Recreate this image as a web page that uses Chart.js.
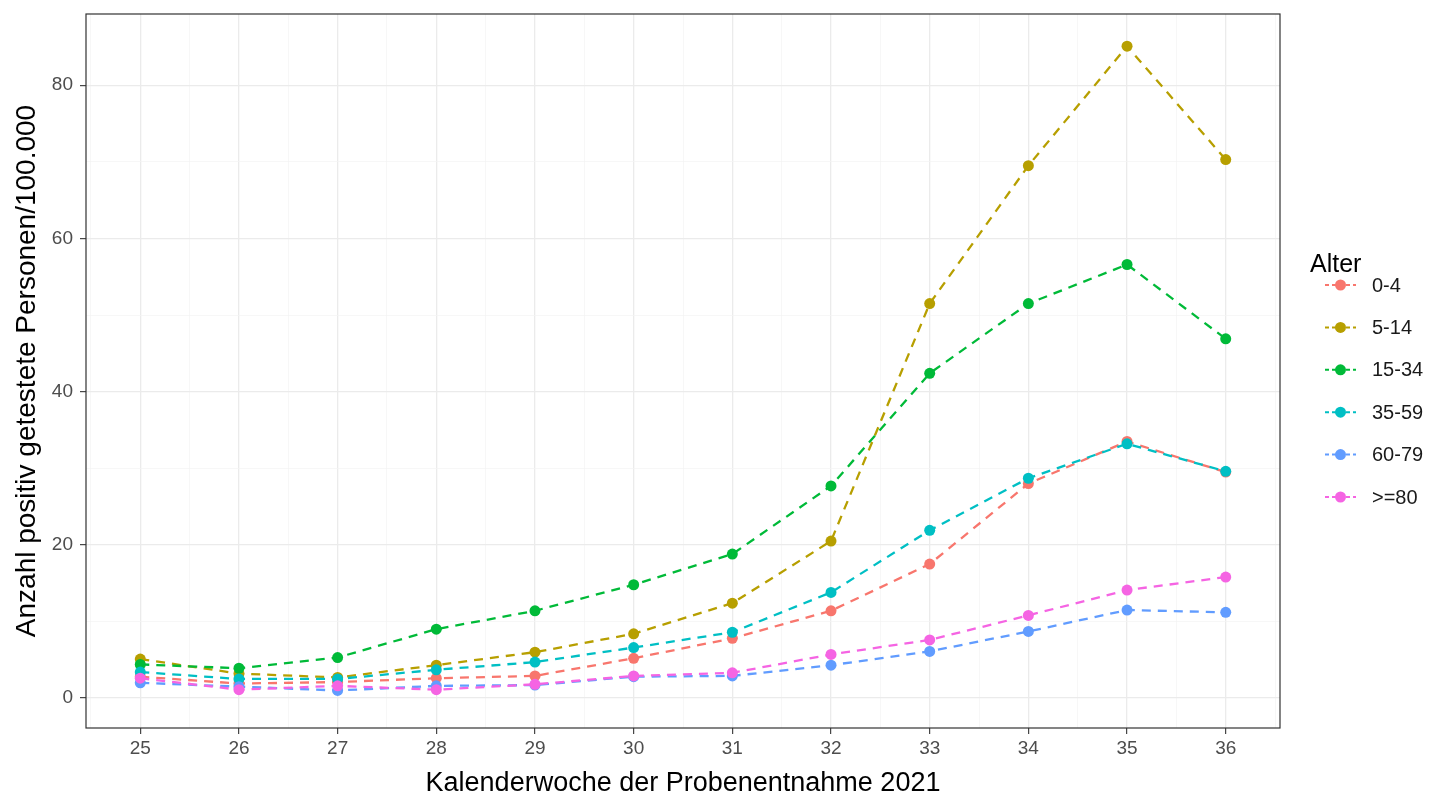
<!DOCTYPE html>
<html>
<head>
<meta charset="utf-8">
<script src="https://cdn.jsdelivr.net/npm/chart.js@4"></script>
<style>
  html, body { margin: 0; padding: 0; background: #fff; }
  #wrap { width: 1434px; height: 793px; position: relative; }
</style>
</head>
<body>
<div id="wrap"><canvas id="myChart"></canvas></div>
<script>
// Kalenderwochen
const weeks = [25, 26, 27, 28, 29, 30, 31, 32, 33, 34, 35, 36];

// Anzahl positiv getestete Personen/100.000 je Altersgruppe
const alter0_4   = [2.8, 1.9, 2.1, 2.6, 2.9, 5.2, 7.8, 11.4, 17.5, 28.0, 33.5, 29.5];
const alter5_14  = [5.1, 3.2, 2.7, 4.3, 6.0, 8.4, 12.4, 20.5, 51.5, 69.5, 85.1, 70.3];
const alter15_34 = [4.4, 3.9, 5.3, 9.0, 11.4, 14.8, 18.8, 27.7, 42.4, 51.5, 56.6, 46.9];
const alter35_59 = [3.4, 2.5, 2.5, 3.7, 4.7, 6.6, 8.6, 13.8, 21.9, 28.7, 33.2, 29.6];
const alter60_79 = [2.0, 1.5, 1.0, 1.6, 1.7, 2.8, 2.9, 4.3, 6.1, 8.7, 11.5, 11.2];
const alter80    = [2.6, 1.1, 1.6, 1.1, 1.8, 2.9, 3.3, 5.7, 7.6, 10.8, 14.1, 15.8];

const groupLabels = ['0-4', '5-14', '15-34', '35-59', '60-79', '>=80'];
const groupValues = [alter0_4, alter5_14, alter15_34, alter35_59, alter60_79, alter80];
const groupColors = ['#F8766D', '#B79F00', '#00BA38', '#00BFC4', '#619CFF', '#F564E3'];

const yTicks = [0, 10, 20, 30, 40, 50, 60, 70, 80];

const FONT = '"Liberation Sans", Arial, Helvetica, sans-serif';

function makeDataSets() {
    let ds = [];
    for (let i = 0; i < groupLabels.length; i++) {
        ds.push({
            label: groupLabels[i],
            data: weeks.map((w, j) => ({x: w, y: groupValues[i][j]})),
            borderColor: groupColors[i],
            backgroundColor: groupColors[i],
            borderWidth: 2.3,
            borderDash: [9, 7],
            pointRadius: 5.5,
            pointHoverRadius: 5.5,
            pointBorderWidth: 0,
            tension: 0,
            order: groupLabels.length - i
        });
    }
    return ds;
}

// panel border like ggplot theme_bw
const panelBorder = {
    id: 'panelBorder',
    afterDraw(chart) {
        const {ctx, chartArea: a} = chart;
        ctx.save();
        ctx.strokeStyle = '#333333';
        ctx.lineWidth = 1.2;
        ctx.strokeRect(a.left, a.top, a.right - a.left, a.bottom - a.top);
        ctx.restore();
    }
};

// legend on the right with line + point keys
const sideLegend = {
    id: 'sideLegend',
    afterDraw(chart) {
        const ctx = chart.ctx;
        ctx.save();
        ctx.fillStyle = '#000';
        ctx.font = '25px ' + FONT;
        ctx.textBaseline = 'middle';
        ctx.textAlign = 'left';
        ctx.fillText('Alter', 1310, 265);
        ctx.font = '20px ' + FONT;
        let y0 = 285;
        let step = 42.4;
        chart.data.datasets.forEach((d, i) => {
            let y = y0 + i * step;
            ctx.strokeStyle = d.borderColor;
            ctx.lineWidth = 2;
            ctx.setLineDash([4, 3]);
            ctx.beginPath();
            ctx.moveTo(1325, y);
            ctx.lineTo(1356, y);
            ctx.stroke();
            ctx.setLineDash([]);
            ctx.fillStyle = d.backgroundColor;
            ctx.beginPath();
            ctx.arc(1340.5, y, 5.5, 0, Math.PI * 2);
            ctx.fill();
            ctx.fillStyle = '#1a1a1a';
            ctx.fillText(d.label, 1372, y + 1);
        });
        ctx.restore();
    }
};

function drawChart() {
    const ctx = document.getElementById('myChart');
    new Chart(ctx, {
        type: 'line',
        data: {
            datasets: makeDataSets()
        },
        plugins: [panelBorder, sideLegend],
        options: {
            responsive: true,
            maintainAspectRatio: false,
            animation: false,
            layout: {
                padding: {left: 0, top: 14, right: 154, bottom: 0}
            },
            plugins: {
                legend: {display: false},
                tooltip: {enabled: false}
            },
            scales: {
                x: {
                    type: 'linear',
                    min: 24.45,
                    max: 36.55,
                    afterBuildTicks: scale => {
                        let t = [];
                        for (let v = 24.5; v <= 36.5; v += 0.5) t.push({value: v});
                        scale.ticks = t;
                    },
                    afterFit: scale => {
                        scale.height = 65;
                        scale.paddingLeft = 0;
                        scale.paddingRight = 0;
                    },
                    ticks: {
                        autoSkip: false,
                        maxRotation: 0,
                        padding: 3,
                        color: '#4D4D4D',
                        font: {family: FONT, size: 19},
                        callback: v => Number.isInteger(v) ? String(v) : ''
                    },
                    grid: {
                        color: c => Number.isInteger(c.tick.value) ? '#EBEBEB' : '#F4F4F4',
                        lineWidth: c => Number.isInteger(c.tick.value) ? 1.3 : 0.7,
                        tickColor: c => Number.isInteger(c.tick.value) ? '#333333' : 'rgba(0,0,0,0)',
                        tickLength: 6,
                        tickWidth: 1.1
                    },
                    border: {display: false},
                    title: {
                        display: true,
                        text: 'Kalenderwoche der Probenentnahme 2021',
                        color: '#000',
                        font: {family: FONT, size: 27, lineHeight: 0.7},
                        padding: {top: 0, bottom: 0}
                    }
                },
                y: {
                    type: 'linear',
                    min: -3.9,
                    max: 89.3,
                    afterBuildTicks: scale => {
                        scale.ticks = yTicks.map(v => ({value: v}));
                    },
                    afterFit: scale => {
                        scale.width = 86;
                        scale.paddingTop = 0;
                        scale.paddingBottom = 0;
                    },
                    ticks: {
                        autoSkip: false,
                        padding: 7,
                        color: '#4D4D4D',
                        font: {family: FONT, size: 19},
                        callback: v => v % 20 === 0 ? String(v) : ''
                    },
                    grid: {
                        color: c => c.tick.value % 20 === 0 ? '#EBEBEB' : '#F4F4F4',
                        lineWidth: c => c.tick.value % 20 === 0 ? 1.3 : 0.7,
                        tickColor: c => c.tick.value % 20 === 0 ? '#333333' : 'rgba(0,0,0,0)',
                        tickLength: 6,
                        tickWidth: 1.1
                    },
                    border: {display: false},
                    title: {
                        display: true,
                        text: 'Anzahl positiv getestete Personen/100.000',
                        color: '#000',
                        font: {family: FONT, size: 28},
                        padding: {top: 10, bottom: 0}
                    }
                }
            }
        }
    });
}

window.addEventListener('load', evt => drawChart());
</script>
</body>
</html>
